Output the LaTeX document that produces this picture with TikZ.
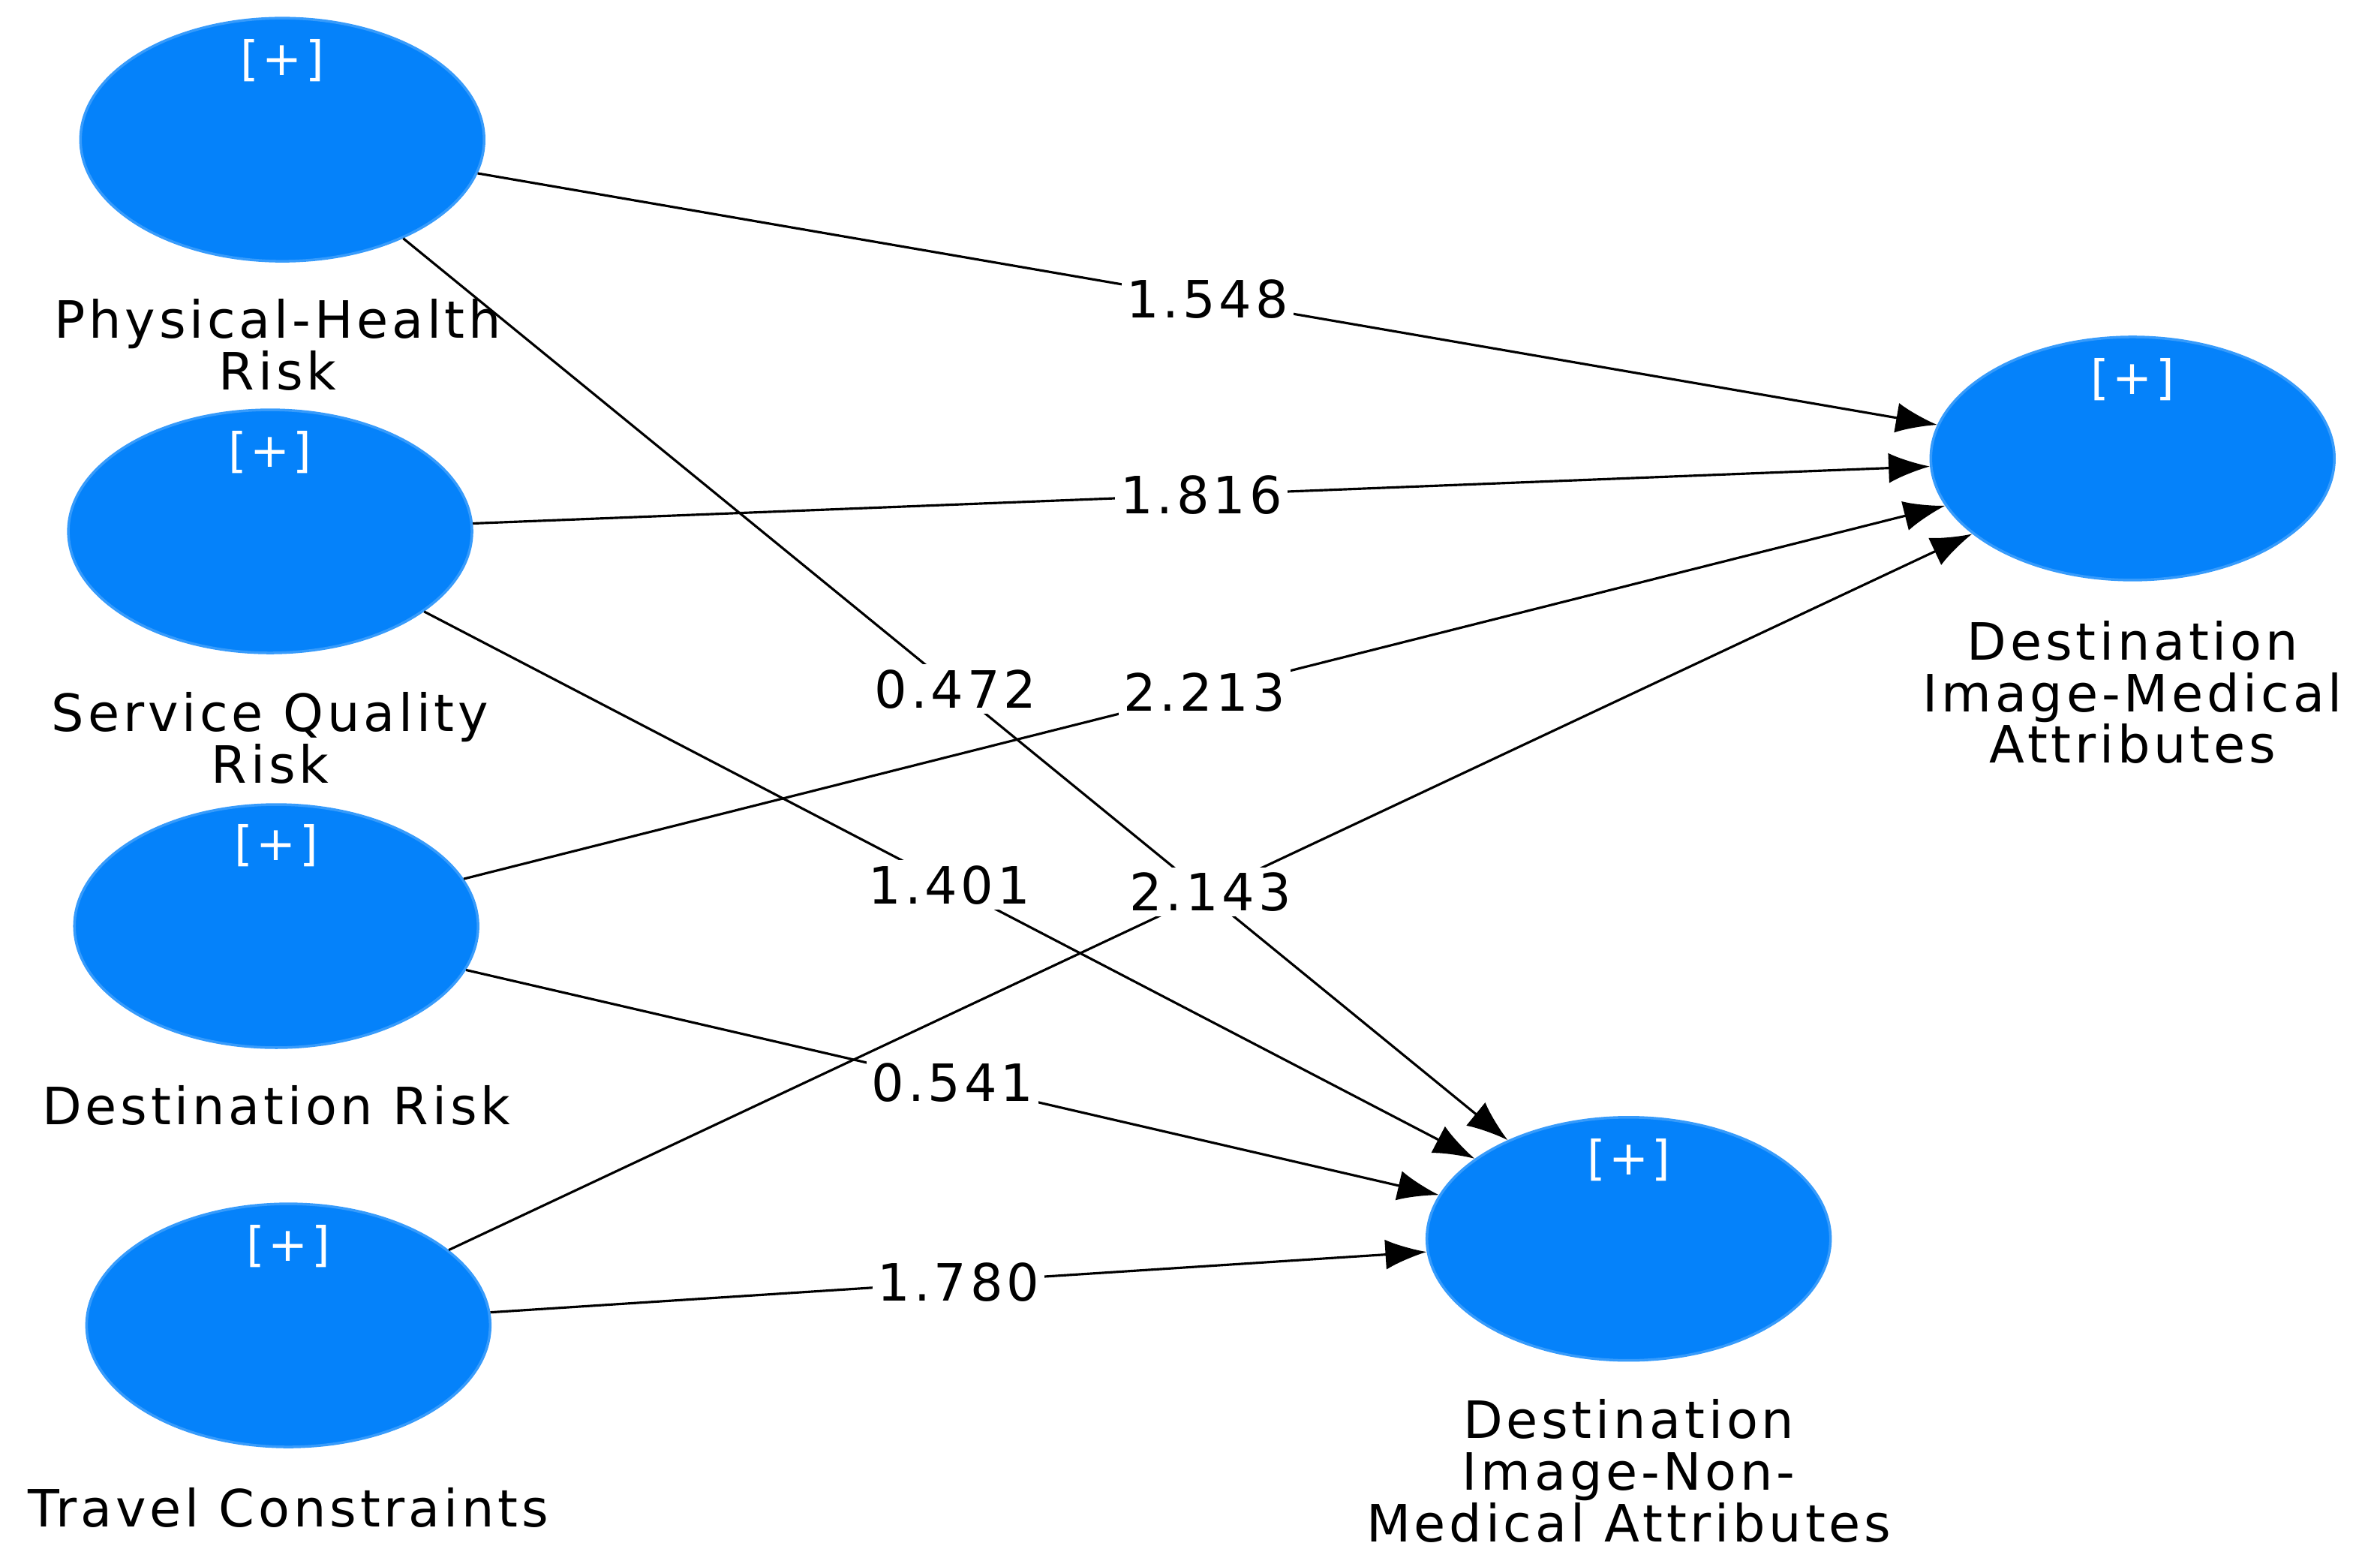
\documentclass[tikz,border=0pt]{standalone}
\usepackage{fontspec}
\setmainfont{DejaVu Sans}[LetterSpace=7]
\usetikzlibrary{shapes.geometric,arrows.meta}
\definecolor{lv}{HTML}{0582FA}
\begin{document}
\begin{tikzpicture}[x=0.02023cm,y=-0.02023cm,
  lv/.style={ellipse,fill=lv,draw=lv!80!white,line width=1pt,minimum width=5.38cm,minimum height=3.24cm,inner sep=0pt},
  plus/.style={text=white,font=\fontsize{18}{21}\selectfont},
  lab/.style={align=center,font=\fontsize{19.5}{19.6}\selectfont},
  path/.style={draw=black,line width=0.9pt,-{Latex[length=0.55cm,width=0.4cm]}},
  coef/.style={fill=white,inner sep=2pt,font=\fontsize{19.5}{22}\selectfont,pos=0.5}]
\useasboundingbox (0,0) rectangle (1568,1030);
\node[lv] (phr) at (186,92) {};
\node[lv] (sqr) at (178,350) {};
\node[lv] (dr) at (182,610) {};
\node[lv] (tc) at (190,873) {};
\node[lv] (dim) at (1405,302) {};
\node[lv] (dinm) at (1073,816) {};
\node[plus] (pl1) at (186,40) {[+]};
\node[plus] (pl2) at (178,298) {[+]};
\node[plus] (pl3) at (182,557) {[+]};
\node[plus] (pl4) at (190,821) {[+]};
\node[plus] (pl5) at (1405,250) {[+]};
\node[plus] (pl6) at (1073,764) {[+]};
\node[lab] (l1) at (183,227) {Physical-Health\\Risk};
\node[lab] (l2) at (178,486) {Service Quality\\Risk};
\node[lab] (l3) at (182,728) {Destination Risk};
\node[lab] (l4) at (190,993) {Travel Constraints};
\node[lab] (l5) at (1405,456) {Destination\\Image-Medical\\Attributes};
\node[lab] (l6) at (1073,969) {Destination\\Image-Non-\\Medical Attributes};
\draw[path] (phr) -- node[coef]{1.548} (dim);
\draw[path] (phr) -- node[coef]{0.472} (dinm);
\draw[path] (sqr) -- node[coef]{1.816} (dim);
\draw[path] (sqr) -- node[coef]{1.401} (dinm);
\draw[path] (dr) -- node[coef]{2.213} (dim);
\draw[path] (dr) -- node[coef]{0.541} (dinm);
\draw[path] (tc) -- node[coef]{2.143} (dim);
\draw[path] (tc) -- node[coef]{1.780} (dinm);
\end{tikzpicture}
\end{document}
